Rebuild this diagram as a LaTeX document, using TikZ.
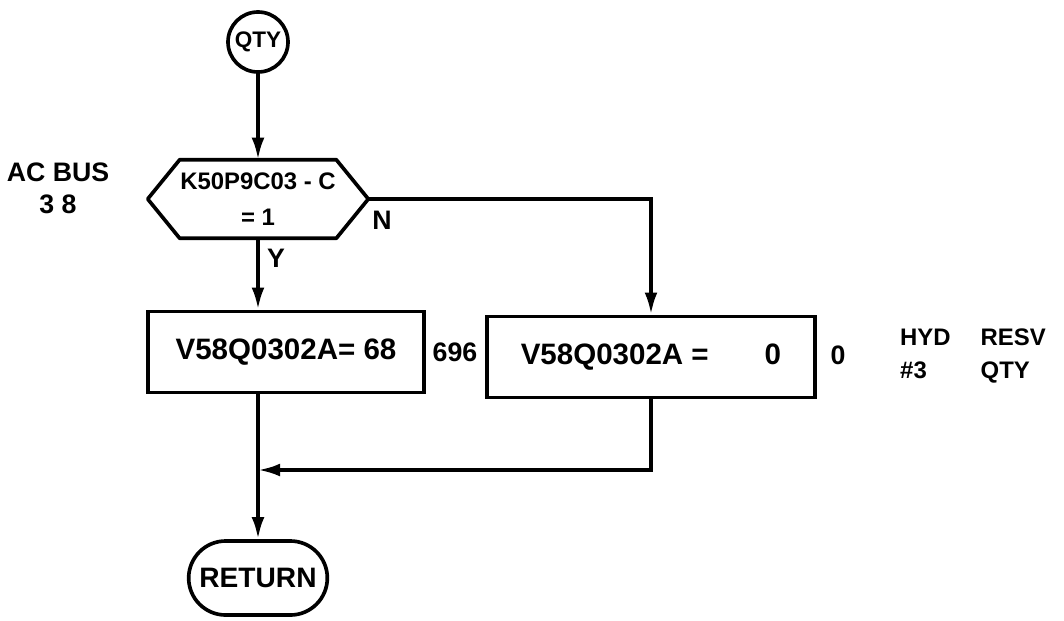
\documentclass[tikz,border=0pt]{standalone}
\usepackage{fontspec}
\setsansfont{Liberation Sans}
\usetikzlibrary{arrows.meta, shapes.misc, calc}
\tikzset{
  flow/.style={-{Latex[length=5.5mm,width=3.2mm]}, line width=2.6pt},
  term/.style={circle, draw, line width=2.6pt, minimum size=1.5cm, inner sep=0pt, font=\sffamily\bfseries\fontsize{16}{18}\selectfont},
  stadium/.style={rounded rectangle, draw, line width=2.6pt, minimum width=3.7cm, minimum height=1.85cm, font=\sffamily\bfseries\fontsize{20}{22}\selectfont},
  procbox/.style={rectangle, draw, line width=2.6pt, minimum height=2.03cm, font=\sffamily\bfseries\fontsize{21}{24}\selectfont},
  note/.style={font=\sffamily\bfseries\fontsize{19}{23}\selectfont},
  every node/.append style={font=\sffamily\bfseries}
}
\begin{document}
\begin{tikzpicture}[x=0.025cm, y=-0.025cm]
\useasboundingbox (0,0) rectangle (1064,620);
% nodes
\node[term] (qty) at (258,42) {QTY};
\node[minimum width=5.5cm, minimum height=1.95cm, inner sep=0pt, align=center,
      font=\sffamily\bfseries\fontsize{17}{26}\selectfont] (dec) at (258,199) {K50P9C03 - C\\= 1};
\draw[line width=2.6pt, line join=round] (dec.west) -- ([xshift=0.8cm]dec.north west) -- ([xshift=-0.8cm]dec.north east)
  -- (dec.east) -- ([xshift=-0.8cm]dec.south east) -- ([xshift=0.8cm]dec.south west) -- cycle;
\node[procbox, minimum width=6.9cm] (setA) at (286,352) {V58Q0302A= 68};
\node[procbox, minimum width=8.2cm] (setB) at (651,357) {V58Q0302A =\hspace{1.4cm}0\hspace{0.5cm}};
\node[stadium] (ret) at (258,578) {RETURN};
\coordinate (merge) at (258,470);
% labels
\node[note, align=center] (bus) at (58,188) {AC BUS\\3 8};
\node[note] (yes) at (276,258) {Y};
\node[note] (no) at (382,220) {N};
\node[note] (valA) at (455,352) {696};
\node[note] (valB) at (838,355) {0};
\node[note, align=left, font=\sffamily\bfseries\fontsize{17}{21}\selectfont] (hyd) at (973,356) {%
  \begin{tabular}{@{}l@{\hspace{0.75cm}}l@{}}HYD & RESV\\[2pt] \#3 & QTY\end{tabular}};
% connectors
\draw[flow] (qty) -- (dec.north);
\draw[flow] (dec.south) -- (dec.south |- setA.north);
\draw[flow] (dec.east) -| (setB.north);
\draw[flow] (setB.south) |- (merge);
\draw[flow] (dec.south |- setA.south) -- (ret.north);
\end{tikzpicture}
\end{document}
